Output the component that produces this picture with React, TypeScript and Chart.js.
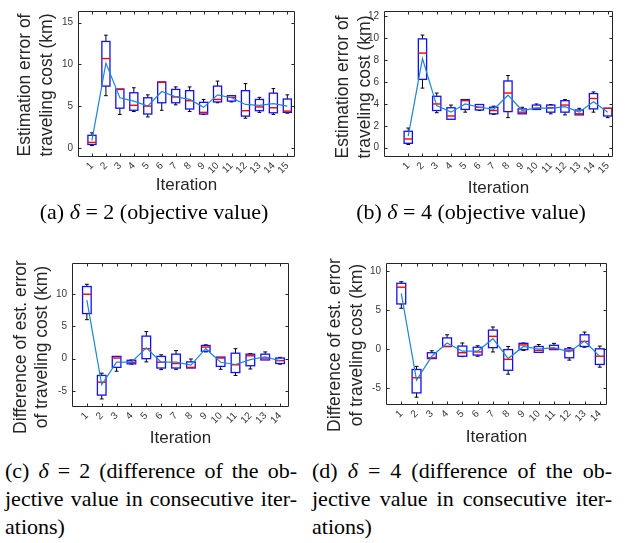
import React, { useEffect, useRef } from 'react';
import { Chart, registerables } from 'chart.js';

Chart.register(...registerables);

// ---------- data ----------
const iter15 = [1, 2, 3, 4, 5, 6, 7, 8, 9, 10, 11, 12, 13, 14, 15];
const iter14 = [1, 2, 3, 4, 5, 6, 7, 8, 9, 10, 11, 12, 13, 14];

// (a) delta = 2, objective value
const aMin = [0.27, 6.25, 4.0, 4.35, 3.7, 4.5, 5.15, 4.35, 4.0, 5.4, 5.5, 3.55, 4.25, 4.0, 4.15];
const aQ1 = [0.4, 7.4, 4.75, 4.5, 4.05, 5.4, 5.4, 4.65, 4.05, 5.5, 5.6, 3.8, 4.45, 4.2, 4.25];
const aMed = [0.65, 10.7, 7.0, 5.1, 5.0, 7.85, 6.1, 5.65, 4.25, 5.8, 6.05, 4.45, 4.9, 4.8, 4.4];
const aQ3 = [1.5, 12.75, 7.05, 6.6, 6.0, 7.9, 7.0, 6.85, 5.45, 7.4, 6.25, 6.85, 5.8, 6.55, 5.85];
const aMax = [1.8, 13.5, 7.05, 7.2, 6.35, 7.9, 7.3, 7.3, 5.8, 8.0, 6.25, 7.7, 6.05, 7.1, 6.35];
const aMean = [0.9, 10.15, 6.0, 5.6, 5.0, 6.75, 6.1, 5.8, 4.85, 6.35, 6.0, 5.2, 5.1, 5.3, 5.0];
const aYTicks = [0, 5, 10, 15];

// (b) delta = 4, objective value
const bMin = [0.3, 5.45, 3.2, 2.6, 3.25, 3.4, 3.05, 2.75, 3.1, 3.5, 3.1, 3.0, 3.0, 3.25, 2.75];
const bQ1 = [0.4, 6.25, 3.4, 2.6, 3.5, 3.45, 3.1, 3.3, 3.1, 3.5, 3.25, 3.25, 3.0, 3.55, 2.9];
const bMed = [0.8, 8.65, 4.0, 2.9, 4.3, 3.7, 3.4, 5.0, 3.25, 3.6, 3.65, 3.9, 3.1, 4.5, 3.6];
const bQ3 = [1.5, 9.95, 4.7, 3.65, 4.4, 3.95, 3.7, 6.1, 3.55, 3.9, 3.9, 4.3, 3.45, 4.95, 3.6];
const bMax = [1.8, 10.3, 5.0, 3.9, 4.4, 3.95, 3.8, 6.6, 3.7, 4.0, 3.95, 4.4, 3.6, 5.1, 3.6];
const bMean = [1.05, 8.15, 3.85, 3.25, 4.0, 3.7, 3.5, 4.8, 3.4, 3.65, 3.6, 3.75, 3.25, 4.2, 3.25];
const bYTicks = [0, 2, 4, 6, 8, 10, 12];

// (c) delta = 2, difference
const cMin = [6.05, -6.25, -1.95, -0.85, -0.5, -1.7, -1.65, -1.45, 1.05, -1.65, -2.6, -1.6, -0.2, -0.85];
const cQ1 = [7.0, -5.65, -1.35, -0.8, 0.0, -1.45, -1.45, -1.45, 1.15, -1.2, -2.15, -1.1, -0.2, -0.75];
const cMed = [10.0, -3.65, 0.1, -0.55, 1.55, -0.55, -0.75, -1.35, 1.8, 0.1, -0.95, 0.45, 0.1, -0.3];
const cQ3 = [11.2, -2.6, 0.35, -0.25, 3.5, 0.35, 0.7, -0.5, 2.05, 0.25, 0.85, 0.7, 0.7, 0.1];
const cMax = [11.55, -2.25, 0.35, -0.2, 4.2, 0.6, 1.25, -0.05, 2.15, 0.25, 1.55, 0.8, 1.05, 0.2];
const cMean = [9.1, -4.05, -0.55, -0.55, 1.7, -0.55, -0.55, -1.0, 1.55, -0.55, -0.9, -0.15, 0.3, -0.35];
const cYTicks = [-5, 0, 5, 10];

// (d) delta = 4, difference
const dMin = [5.2, -6.2, -1.25, 0.3, -1.0, -0.95, -0.4, -3.25, -0.2, -0.45, -0.1, -1.45, 0.2, -2.35];
const dQ1 = [5.75, -5.65, -1.25, 0.3, -0.95, -0.8, 0.15, -2.75, -0.1, -0.45, -0.1, -1.15, 0.3, -2.0];
const dMed = [7.9, -3.7, -1.15, 0.3, -0.5, -0.4, 1.6, -1.35, 0.5, -0.2, 0.0, -0.25, 0.95, -0.95];
const dQ3 = [8.4, -2.65, -0.5, 1.4, 0.35, 0.2, 2.4, -0.1, 0.7, 0.3, 0.45, 0.0, 1.8, 0.0];
const dMax = [8.6, -2.25, -0.25, 1.8, 0.75, 0.4, 2.8, 0.3, 0.75, 0.55, 0.7, 0.15, 2.15, 0.35];
const dMean = [7.1, -4.0, -0.95, 0.75, -0.3, -0.3, 1.3, -1.25, 0.3, -0.05, 0.15, -0.4, 1.0, -1.0];
const dYTicks = [-5, 0, 5, 10];

const objTitle = ['Estimation error of', 'traveling cost (km)'];
const diffTitle = ['Difference of est. error', 'of traveling cost (km)'];
const xTitle = 'Iteration';

// ---------- styles ----------
const AXIS_COLOR = '#262626';
const TICK_COLOR = '#3a3a3a';
const BOX_COLOR = '#1010ff';
const MED_COLOR = '#ff0000';
const MEAN_COLOR = '#1c86d0';
const BOX_W = 0.58;
const SANS = '"Liberation Sans", Arial, sans-serif';
const SERIF = '"Liberation Serif", "Times New Roman", serif';

type PanelProps = {
  iter: number[];
  min: number[];
  q1: number[];
  med: number[];
  q3: number[];
  max: number[];
  mean: number[];
  yTicks: number[];
  yRange: [number, number];
  xRange: [number, number];
  yTitle: string[];
  left: number;
  top: number;
  width: number;
  height: number;
  pad: { left: number; top: number; right: number; bottom: number };
  yWidth: number;
  xHeight: number;
  yTitleX: [number, number];
  yTitleCY: number;
  xTitlePad: number;
};

function Panel(p: PanelProps) {
  const ref = useRef<HTMLCanvasElement>(null);
  useEffect(() => {
    if (!ref.current) return;
    const boxPlugin = {
      id: 'boxes',
      beforeDatasetsDraw(chart: any) {
        const { ctx } = chart;
        const x = chart.scales.x;
        const y = chart.scales.y;
        ctx.save();
        p.iter.forEach((it, i) => {
          const cx = x.getPixelForValue(it);
          const half = (x.getPixelForValue(it + BOX_W / 2) - x.getPixelForValue(it - BOX_W / 2)) / 2;
          const cap = half * 0.45;
          const yMin = y.getPixelForValue(p.min[i]);
          const yQ1 = y.getPixelForValue(p.q1[i]);
          const yMed = y.getPixelForValue(p.med[i]);
          const yQ3 = y.getPixelForValue(p.q3[i]);
          const yMax = y.getPixelForValue(p.max[i]);
          ctx.strokeStyle = '#000';
          ctx.lineWidth = 1;
          if (p.max[i] > p.q3[i]) {
            ctx.beginPath();
            ctx.moveTo(cx, yQ3);
            ctx.lineTo(cx, yMax);
            ctx.moveTo(cx - cap, yMax);
            ctx.lineTo(cx + cap, yMax);
            ctx.stroke();
          }
          if (p.min[i] < p.q1[i]) {
            ctx.beginPath();
            ctx.moveTo(cx, yQ1);
            ctx.lineTo(cx, yMin);
            ctx.moveTo(cx - cap, yMin);
            ctx.lineTo(cx + cap, yMin);
            ctx.stroke();
          }
          ctx.strokeStyle = BOX_COLOR;
          ctx.lineWidth = 1.3;
          ctx.strokeRect(cx - half, yQ3, 2 * half, yQ1 - yQ3);
          ctx.strokeStyle = MED_COLOR;
          ctx.lineWidth = 1.4;
          ctx.beginPath();
          ctx.moveTo(cx - half, yMed);
          ctx.lineTo(cx + half, yMed);
          ctx.stroke();
        });
        ctx.restore();
      },
      afterDraw(chart: any) {
        const { ctx, chartArea } = chart;
        const x = chart.scales.x;
        const y = chart.scales.y;
        const L = Math.round(chartArea.left) + 0.5;
        const R = Math.round(chartArea.right) - 0.5;
        const T = Math.round(chartArea.top) + 0.5;
        const B = Math.round(chartArea.bottom) - 0.5;
        ctx.save();
        ctx.strokeStyle = AXIS_COLOR;
        ctx.lineWidth = 1;
        ctx.beginPath();
        ctx.rect(L, T, R - L, B - T);
        const tl = 3;
        p.iter.forEach((v) => {
          const px = Math.round(x.getPixelForValue(v)) + 0.5;
          ctx.moveTo(px, B);
          ctx.lineTo(px, B - tl);
          ctx.moveTo(px, T);
          ctx.lineTo(px, T + tl);
        });
        p.yTicks.forEach((v) => {
          const py = Math.round(y.getPixelForValue(v)) + 0.5;
          ctx.moveTo(L, py);
          ctx.lineTo(L + tl, py);
          ctx.moveTo(R, py);
          ctx.lineTo(R - tl, py);
        });
        ctx.stroke();
        // y axis title (two lines, rotated)
        ctx.fillStyle = AXIS_COLOR;
        ctx.font = `17.5px ${SANS}`;
        ctx.textAlign = 'center';
        ctx.textBaseline = 'middle';
        p.yTitle.forEach((t, k) => {
          ctx.save();
          ctx.translate(p.yTitleX[k], p.yTitleCY);
          ctx.rotate(-Math.PI / 2);
          ctx.fillText(t, 0, 0);
          ctx.restore();
        });
        ctx.restore();
      },
    };

    const chart = new Chart(ref.current, {
      type: 'line',
      data: {
        datasets: [
          {
            data: p.iter.map((v, i) => ({ x: v, y: p.mean[i] })),
            borderColor: MEAN_COLOR,
            borderWidth: 1.2,
            pointRadius: 0,
            tension: 0,
            fill: false,
          },
        ],
      },
      options: {
        responsive: false,
        animation: false,
        events: [],
        layout: { padding: p.pad },
        plugins: { legend: { display: false }, tooltip: { enabled: false } },
        scales: {
          x: {
            type: 'linear',
            min: p.xRange[0],
            max: p.xRange[1],
            afterBuildTicks: (s: any) => {
              s.ticks = p.iter.map((v) => ({ value: v }));
            },
            afterFit: (s: any) => {
              s.height = p.xHeight;
            },
            grid: { display: false, drawTicks: false },
            border: { display: false },
            ticks: {
              autoSkip: false,
              minRotation: 45,
              maxRotation: 45,
              padding: 3,
              color: TICK_COLOR,
              font: { family: SANS, size: 10 },
            },
            title: {
              display: true,
              text: xTitle,
              color: AXIS_COLOR,
              font: { family: SANS, size: 17, lineHeight: 1.2 },
              padding: { top: 0, bottom: p.xTitlePad },
            },
          },
          y: {
            type: 'linear',
            min: p.yRange[0],
            max: p.yRange[1],
            afterBuildTicks: (s: any) => {
              s.ticks = p.yTicks.map((v) => ({ value: v }));
            },
            afterFit: (s: any) => {
              s.width = p.yWidth;
            },
            grid: { display: false, drawTicks: false },
            border: { display: false },
            ticks: {
              padding: 5,
              color: TICK_COLOR,
              font: { family: SANS, size: 10 },
            },
            title: { display: false },
          },
        },
      },
      plugins: [boxPlugin],
    } as any);
    return () => chart.destroy();
  }, []);
  return (
    <canvas
      ref={ref}
      width={p.width}
      height={p.height}
      style={{ position: 'absolute', left: p.left, top: p.top, width: p.width, height: p.height, display: 'block' }}
    />
  );
}

const capStyle: React.CSSProperties = {
  position: 'absolute',
  fontFamily: SERIF,
  fontSize: 22,
  lineHeight: '28px',
  color: '#000',
  whiteSpace: 'nowrap',
};

function JustLine(props: { children: React.ReactNode; last?: boolean }) {
  return (
    <div style={{ textAlign: props.last ? 'left' : 'justify', textAlignLast: props.last ? 'left' : 'justify', whiteSpace: 'normal' } as any}>
      {props.children}
    </div>
  );
}

export default function App() {
  return (
    <div style={{ position: 'absolute', left: 0, top: 0, width: 625, height: 543, background: '#fff', overflow: 'hidden' }}>
      <Panel
        iter={iter15} min={aMin} q1={aQ1} med={aMed} q3={aQ3} max={aMax} mean={aMean}
        yTicks={aYTicks} yRange={[-1.1, 16.4]} xRange={[0, 15.55]} yTitle={objTitle}
        left={0} top={0} width={305} height={200}
        pad={{ left: 0, top: 4, right: 10, bottom: 0 }} yWidth={78} xHeight={43}
        yTitleX={[25, 47]} yTitleCY={85} xTitlePad={4.8}
      />
      <Panel
        iter={iter15} min={bMin} q1={bQ1} med={bMed} q3={bQ3} max={bMax} mean={bMean}
        yTicks={bYTicks} yRange={[-0.85, 12.5]} xRange={[-0.7, 15.37]} yTitle={objTitle}
        left={310} top={0} width={315} height={200}
        pad={{ left: 0, top: 4, right: 12, bottom: 0 }} yWidth={74} xHeight={43}
        yTitleX={[33, 55]} yTitleCY={87} xTitlePad={1.8}
      />
      <Panel
        iter={iter14} min={cMin} q1={cQ1} med={cMed} q3={cQ3} max={cMax} mean={cMean}
        yTicks={cYTicks} yRange={[-7.5, 14.85]} xRange={[0, 14.6]} yTitle={diffTitle}
        left={0} top={252} width={305} height={200}
        pad={{ left: 0, top: 2, right: 16, bottom: 0 }} yWidth={72} xHeight={45}
        yTitleX={[21, 42]} yTitleCY={95} xTitlePad={3.8}
      />
      <Panel
        iter={iter14} min={dMin} q1={dQ1} med={dMed} q3={dQ3} max={dMax} mean={dMean}
        yTicks={dYTicks} yRange={[-7.2, 11.0]} xRange={[0, 14.47]} yTitle={diffTitle}
        left={310} top={252} width={315} height={200}
        pad={{ left: 0, top: 3, right: 18, bottom: 0 }} yWidth={76} xHeight={47}
        yTitleX={[25, 47]} yTitleCY={93} xTitlePad={4.8}
      />

      <div style={{ ...capStyle, left: 4, top: 198, width: 300, textAlign: 'center' }}>
        (a) <i>δ</i> = 2 (objective value)
      </div>
      <div style={{ ...capStyle, left: 321, top: 198, width: 300, textAlign: 'center' }}>
        (b) <i>δ</i> = 4 (objective value)
      </div>

      <div style={{ ...capStyle, left: 5, top: 457, width: 292 }}>
        <JustLine>(c) <i>δ</i> = 2 (difference of the ob-</JustLine>
        <JustLine>jective value in consecutive iter-</JustLine>
        <JustLine last>ations)</JustLine>
      </div>
      <div style={{ ...capStyle, left: 312, top: 457, width: 300 }}>
        <JustLine>(d) <i>δ</i> = 4 (difference of the ob-</JustLine>
        <JustLine>jective value in consecutive iter-</JustLine>
        <JustLine last>ations)</JustLine>
      </div>
    </div>
  );
}
